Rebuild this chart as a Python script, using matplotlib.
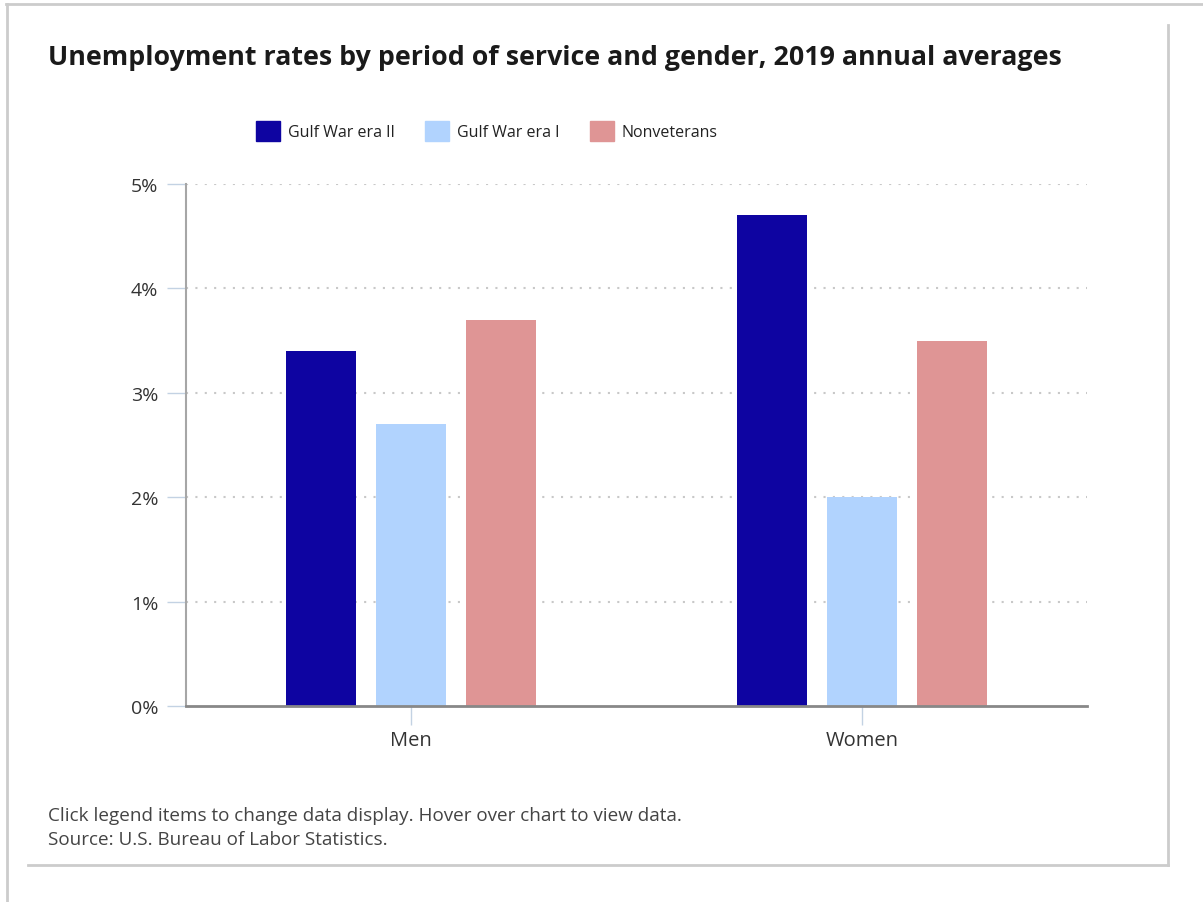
import matplotlib.pyplot as plt
from matplotlib.lines import Line2D
from matplotlib.patches import Patch

# 2019 annual averages, percent unemployed
groups = ['Men', 'Women']
series = ['Gulf War era II', 'Gulf War era I', 'Nonveterans']
gulf_war_2 = [3.4, 4.7]
gulf_war_1 = [2.7, 2.0]
nonveterans = [3.7, 3.5]
colors = ['#0e04a1', '#b1d3fe', '#df9595']
y_ticks = [0, 1, 2, 3, 4, 5]

plt.rcParams['font.family'] = ['Open Sans', 'DejaVu Sans']

fig = plt.figure(figsize=(12.03, 9.03), dpi=100)
ax = fig.add_axes([186 / 1203, 1 - 707 / 903, 901 / 1203, 522 / 903])

width = 0.155
step = 0.2
x = list(range(len(groups)))
for i, (vals, col, name) in enumerate(zip([gulf_war_2, gulf_war_1, nonveterans], colors, series)):
    ax.bar([xi + (i - 1) * step for xi in x], vals, width, color=col, label=name, zorder=3)

ax.set_xlim(-0.5, 1.5)
ax.set_ylim(0, 5)
ax.set_yticks(y_ticks)
ax.set_yticklabels([f'{t}%' for t in y_ticks], fontsize=14, color='#333333')
ax.set_xticks(x)
ax.set_xticklabels(groups, fontsize=14.5, color='#333333')
ax.tick_params(axis='y', length=14, width=1, color='#c3d2e3', pad=6)
ax.tick_params(axis='x', length=14, width=1, color='#c3d2e3', pad=3)

# dotted horizontal gridlines
for t in y_ticks[1:]:
    ax.axhline(t, color='#c8c8c8', linestyle=(0, (1, 3.5)), linewidth=1.5, zorder=1)

for side in ['top', 'right']:
    ax.spines[side].set_visible(False)
ax.spines['left'].set_color('#a6a6a6')
ax.spines['left'].set_linewidth(1.5)
ax.spines['bottom'].set_color('#888888')
ax.spines['bottom'].set_linewidth(2)
ax.spines['bottom'].set_zorder(4)

fig.text(48 / 1203, 1 - 58 / 903, 'Unemployment rates by period of service and gender, 2019 annual averages',
         fontsize=19.3, fontweight='bold', color='#1a1a1a', va='center', ha='left')

handles = [Patch(facecolor=c, edgecolor=c) for c in colors]
fig.legend(handles, series, loc='center', bbox_to_anchor=(487 / 1203, 1 - 132 / 903), ncol=3,
           frameon=False, fontsize=11.5, handlelength=1.5, handleheight=1.5,
           handletextpad=0.5, columnspacing=1.9, labelcolor='#222222')

fig.text(48 / 1203, 1 - 816 / 903, 'Click legend items to change data display. Hover over chart to view data.',
         fontsize=13.6, color='#444444', va='center', ha='left')
fig.text(48 / 1203, 1 - 840 / 903, 'Source: U.S. Bureau of Labor Statistics.',
         fontsize=13.6, color='#444444', va='center', ha='left')

# page frame lines
frame = '#cccccc'
def fline(x0, y0, x1, y1):
    fig.add_artist(Line2D([x0 / 1203, x1 / 1203], [1 - y0 / 903, 1 - y1 / 903],
                          color=frame, linewidth=2, transform=fig.transFigure))

fline(6, 5, 1203, 5)
fline(7, 5, 7, 903)
fline(1168, 26, 1168, 866)
fline(28, 866, 1168, 866)

fig.savefig('out.png', dpi=100, facecolor='white')
